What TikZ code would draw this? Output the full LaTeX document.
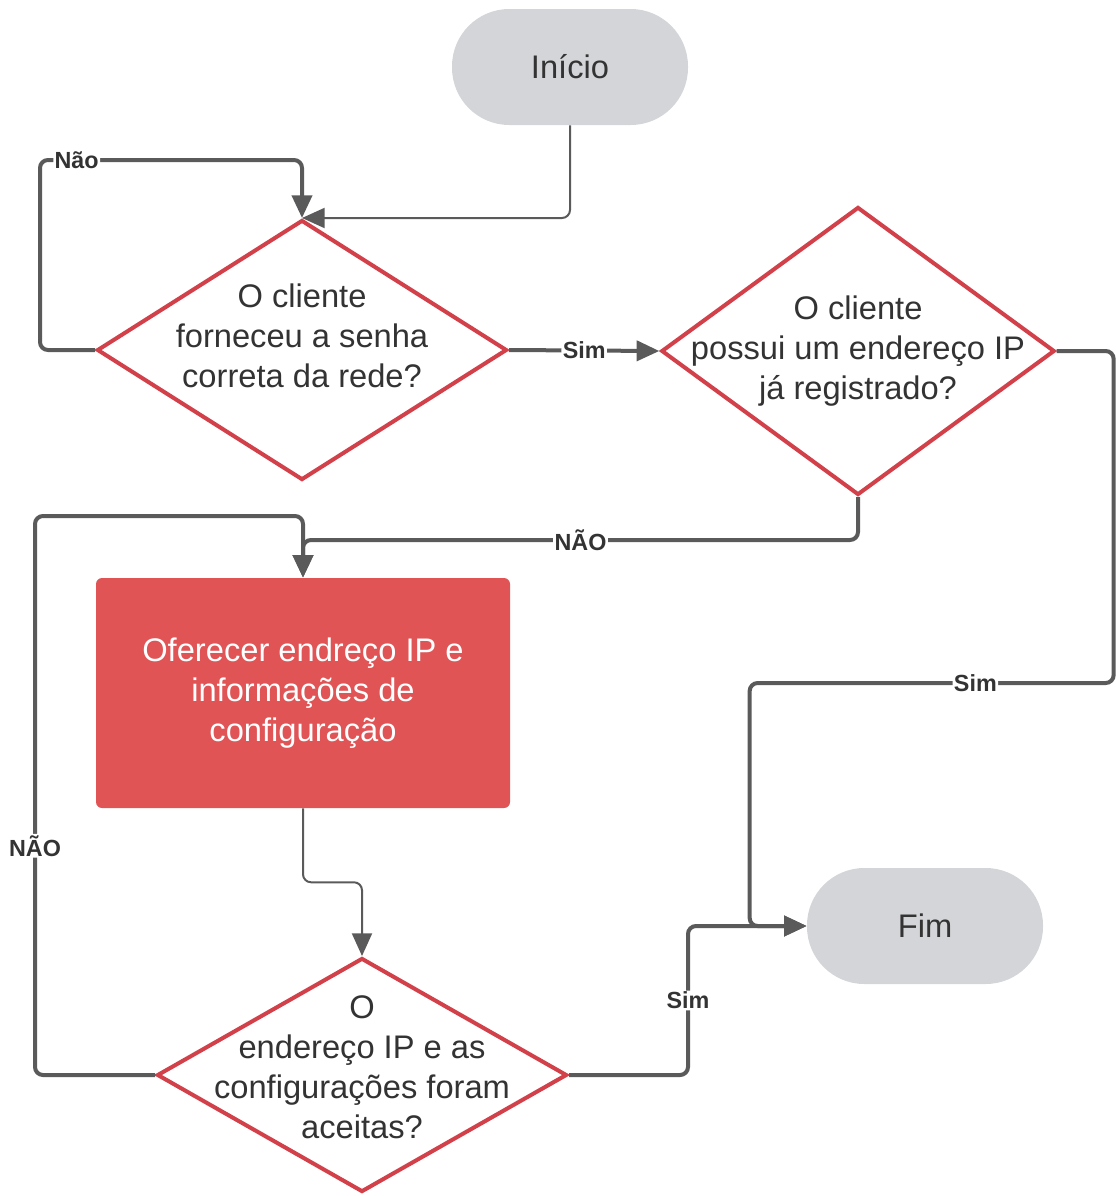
\documentclass[tikz,border=0pt]{standalone}
\usepackage{fontspec}
\setmainfont{Liberation Sans}
\usepackage{tikz}
\usetikzlibrary{shapes.geometric, arrows.meta, positioning}
\definecolor{flowred}{HTML}{D2404A}
\definecolor{boxred}{HTML}{E05456}
\definecolor{termgray}{HTML}{D3D5D8}
\definecolor{linegray}{HTML}{5A5A5A}
\definecolor{txtgray}{HTML}{333333}

\begin{document}
\begin{tikzpicture}[
        x=0.75pt, y=-0.75pt,
        font=\fontsize{24.5pt}{30pt}\selectfont,
        terminal/.style = {rectangle, rounded corners=43pt, fill=termgray, minimum width=177pt, minimum height=87pt, text=txtgray},
        decision/.style = {diamond, aspect=1.5, draw=flowred, line width=3pt, fill=white, align=center, text=txtgray, inner sep=-25pt, minimum width=307.5pt, minimum height=195pt},
        process/.style = {rectangle, rounded corners=4.5pt, fill=boxred, text=white, align=center, minimum width=310.5pt, minimum height=172.5pt},
        arrow/.style = {draw=linegray, line width=3pt, rounded corners=6pt, -{Triangle[length=17pt 0, width=15pt 0]}},
        thinarrow/.style = {arrow, line width=1.5pt},
        lbl/.style = {fill=white, inner sep=1pt, font=\fontsize{17.5pt}{19pt}\selectfont\bfseries, text=txtgray}
    ]

        \useasboundingbox (0,0) rectangle (1115,1196);

        \node (inicio) [terminal] at (570,67) {Início};
        \node (senha) [decision] at (302,350) {O cliente\\forneceu a senha\\correta da rede?\\[-9pt]\mbox{}};
        \node (registro) [decision, aspect=1.36, minimum width=295pt, minimum height=216pt] at (858,351) {O cliente\\possui um endereço IP\\já registrado?};
        \node (oferta) [process] at (303,693) {Oferecer endreço IP e\\informações de\\configuração};
        \node (aceita) [decision, aspect=1.75, minimum height=175.5pt] at (362,1075) {O\\endereço IP e as\\configurações foram\\aceitas?\\[-18pt]\mbox{}};
        \node (fim) [terminal] at (925,926) {Fim};

        \draw [thinarrow] (inicio.south) |- (senha.north);
        \draw [arrow] (senha.west) -| (40,160) -| node[lbl, pos=0.07] {Não} (senha.north);
        \draw [arrow] (senha.east) -- node[lbl] {Sim} (registro.west);
        \draw [arrow] (registro.south) -- ++(0,43) -| node[lbl, pos=0.25] {NÃO} (oferta.north);
        \draw [arrow] (registro.east) -- ++(57,0) -- ++(0,332) -- node[lbl, pos=0.38] {Sim} ++(-364,0) |- (fim.west);
        \draw [thinarrow] (oferta.south) -- ++(0,74) -| (aceita.north);
        \draw [arrow] (aceita.west) -- ++(-120,0) -- node[lbl, pos=0.41] {NÃO} ++(0,-559) -| (oferta.north);
        \draw [arrow] (aceita.east) -- ++(119,0) |- node[lbl, pos=0.25] {Sim} (fim.west);

    \end{tikzpicture}
\end{document}
